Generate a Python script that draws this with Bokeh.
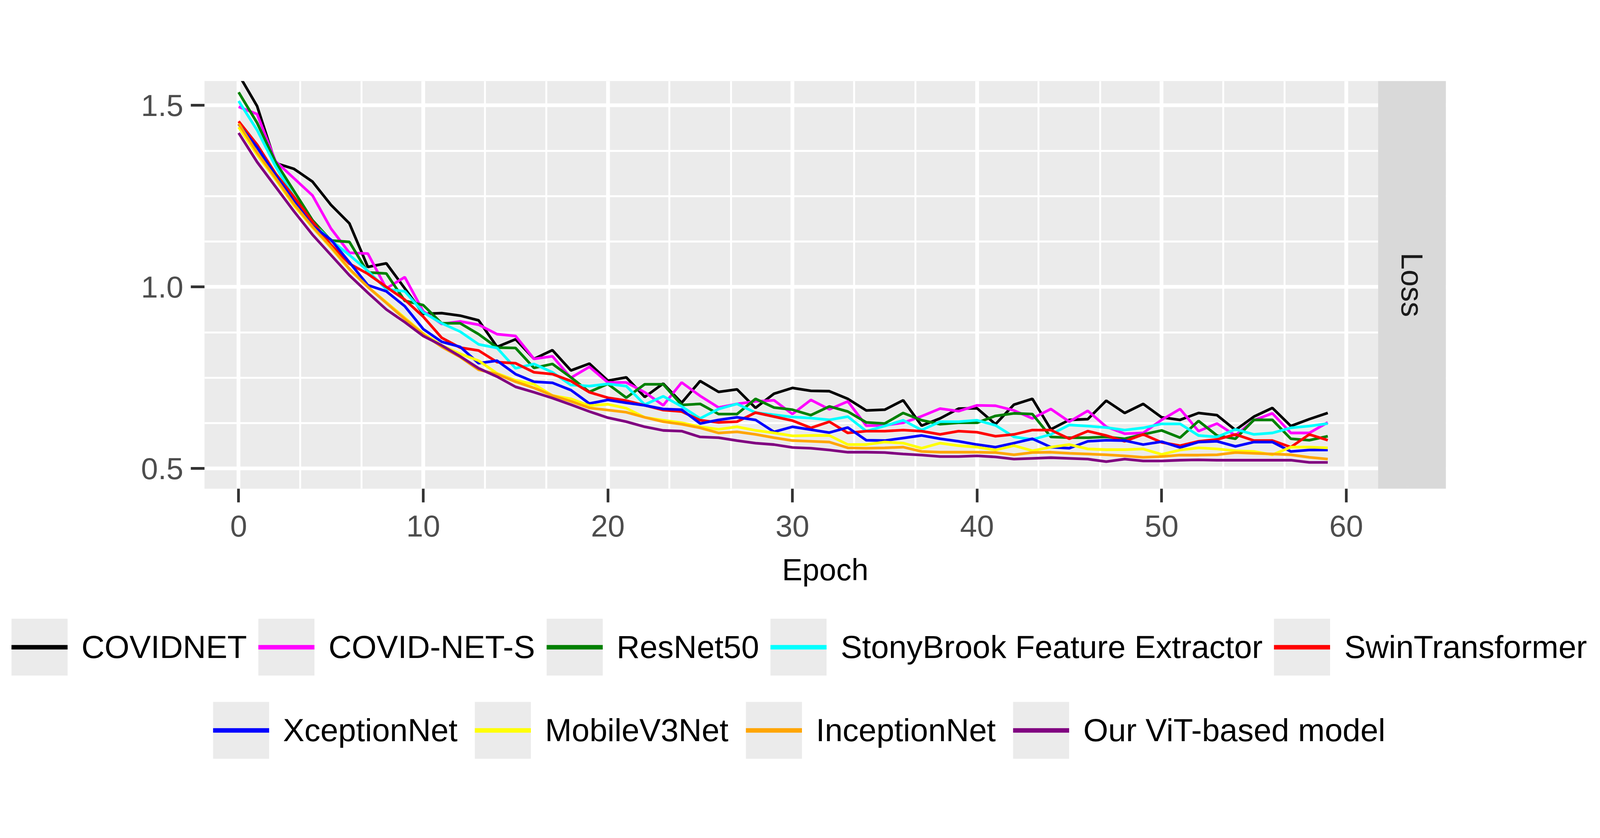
import math
from bokeh.plotting import figure
from bokeh.models import (Range1d, FixedTicker, PrintfTickFormatter, BoxAnnotation,
                          Label, Legend, LegendItem)
from bokeh.embed import file_html
from bokeh.resources import INLINE

FONT = "Liberation Sans"

# ---------------- data ----------------
epochs = list(range(60))

covidnet = [1.585, 1.498, 1.341, 1.325, 1.290, 1.226, 1.175, 1.055, 1.065, 0.996,
            0.926, 0.928, 0.921, 0.908, 0.835, 0.856, 0.802, 0.826, 0.770, 0.789,
            0.742, 0.751, 0.697, 0.734, 0.681, 0.741, 0.711, 0.718, 0.667, 0.706,
            0.722, 0.714, 0.713, 0.692, 0.660, 0.662, 0.688, 0.618, 0.638, 0.665,
            0.666, 0.622, 0.676, 0.692, 0.608, 0.634, 0.636, 0.687, 0.653, 0.678,
            0.641, 0.634, 0.653, 0.647, 0.606, 0.643, 0.667, 0.617, 0.636, 0.653]

covid_net_s = [1.496, 1.476, 1.346, 1.299, 1.252, 1.161, 1.094, 1.092, 0.996, 1.027,
               0.933, 0.898, 0.905, 0.896, 0.870, 0.865, 0.802, 0.809, 0.750, 0.780,
               0.737, 0.737, 0.710, 0.674, 0.737, 0.700, 0.668, 0.678, 0.685, 0.688,
               0.650, 0.689, 0.663, 0.685, 0.618, 0.619, 0.626, 0.644, 0.665, 0.658,
               0.674, 0.673, 0.660, 0.638, 0.664, 0.629, 0.659, 0.615, 0.596, 0.598,
               0.634, 0.664, 0.603, 0.624, 0.591, 0.633, 0.652, 0.598, 0.598, 0.627]

resnet50 = [1.536, 1.452, 1.344, 1.264, 1.184, 1.128, 1.124, 1.040, 1.037, 0.962,
            0.950, 0.900, 0.900, 0.870, 0.833, 0.832, 0.777, 0.788, 0.751, 0.711,
            0.733, 0.695, 0.732, 0.732, 0.675, 0.678, 0.650, 0.650, 0.692, 0.668,
            0.662, 0.647, 0.671, 0.657, 0.627, 0.624, 0.653, 0.633, 0.622, 0.626,
            0.626, 0.645, 0.652, 0.650, 0.587, 0.585, 0.585, 0.587, 0.582, 0.594,
            0.605, 0.585, 0.631, 0.591, 0.582, 0.634, 0.634, 0.582, 0.578, 0.589]

stonybrook = [1.512, 1.432, 1.332, 1.248, 1.176, 1.128, 1.088, 1.044, 0.994, 0.988,
              0.930, 0.900, 0.877, 0.842, 0.832, 0.776, 0.788, 0.765, 0.730, 0.727,
              0.733, 0.727, 0.676, 0.699, 0.671, 0.638, 0.664, 0.678, 0.654, 0.648,
              0.642, 0.639, 0.634, 0.643, 0.603, 0.617, 0.633, 0.606, 0.629, 0.629,
              0.633, 0.619, 0.587, 0.580, 0.594, 0.620, 0.617, 0.613, 0.606, 0.612,
              0.623, 0.623, 0.591, 0.587, 0.608, 0.594, 0.598, 0.612, 0.617, 0.624]

swin = [1.456, 1.392, 1.312, 1.248, 1.180, 1.116, 1.064, 1.036, 1.000, 0.965,
        0.918, 0.860, 0.833, 0.825, 0.793, 0.790, 0.765, 0.760, 0.741, 0.710,
        0.695, 0.687, 0.674, 0.661, 0.657, 0.633, 0.627, 0.629, 0.654, 0.643,
        0.632, 0.612, 0.629, 0.598, 0.603, 0.603, 0.606, 0.603, 0.594, 0.603,
        0.600, 0.589, 0.594, 0.606, 0.606, 0.582, 0.603, 0.591, 0.575, 0.594,
        0.572, 0.563, 0.575, 0.580, 0.594, 0.577, 0.577, 0.559, 0.594, 0.578]

xception = [1.448, 1.384, 1.308, 1.236, 1.168, 1.130, 1.068, 1.005, 0.988, 0.947,
            0.884, 0.849, 0.835, 0.790, 0.797, 0.760, 0.739, 0.736, 0.716, 0.679,
            0.689, 0.681, 0.674, 0.664, 0.662, 0.624, 0.634, 0.641, 0.634, 0.601,
            0.615, 0.607, 0.599, 0.613, 0.578, 0.577, 0.584, 0.591, 0.582, 0.575,
            0.566, 0.559, 0.570, 0.582, 0.559, 0.556, 0.575, 0.578, 0.577, 0.566,
            0.574, 0.558, 0.573, 0.575, 0.561, 0.573, 0.573, 0.547, 0.551, 0.551]

mobile = [1.440, 1.364, 1.296, 1.224, 1.164, 1.108, 1.048, 1.000, 0.958, 0.915,
          0.872, 0.839, 0.816, 0.797, 0.762, 0.743, 0.732, 0.701, 0.692, 0.673,
          0.677, 0.666, 0.641, 0.633, 0.626, 0.615, 0.608, 0.615, 0.605, 0.598,
          0.590, 0.591, 0.591, 0.566, 0.566, 0.573, 0.570, 0.556, 0.570, 0.563,
          0.559, 0.551, 0.563, 0.549, 0.559, 0.566, 0.554, 0.552, 0.552, 0.554,
          0.539, 0.551, 0.557, 0.554, 0.549, 0.547, 0.538, 0.559, 0.559, 0.557]

inception = [1.450, 1.370, 1.300, 1.228, 1.166, 1.110, 1.050, 1.000, 0.956, 0.912,
             0.870, 0.835, 0.807, 0.772, 0.760, 0.739, 0.722, 0.701, 0.685, 0.667,
             0.661, 0.655, 0.641, 0.629, 0.622, 0.612, 0.598, 0.601, 0.594, 0.585,
             0.577, 0.575, 0.573, 0.557, 0.556, 0.557, 0.559, 0.547, 0.545, 0.545,
             0.545, 0.544, 0.538, 0.544, 0.545, 0.542, 0.540, 0.538, 0.535, 0.531,
             0.533, 0.537, 0.537, 0.538, 0.544, 0.542, 0.540, 0.538, 0.531, 0.526]

vit = [1.424, 1.344, 1.276, 1.208, 1.144, 1.088, 1.032, 0.984, 0.938, 0.903,
       0.865, 0.839, 0.809, 0.776, 0.753, 0.725, 0.710, 0.694, 0.676, 0.657,
       0.640, 0.629, 0.615, 0.605, 0.603, 0.587, 0.585, 0.577, 0.570, 0.566,
       0.558, 0.556, 0.551, 0.545, 0.545, 0.544, 0.540, 0.537, 0.533, 0.533,
       0.535, 0.532, 0.526, 0.528, 0.530, 0.528, 0.526, 0.519, 0.526, 0.521,
       0.521, 0.523, 0.524, 0.523, 0.523, 0.523, 0.523, 0.523, 0.517, 0.517]

series_names = ["COVIDNET", "COVID-NET-S", "ResNet50", "StonyBrook Feature Extractor",
                "SwinTransformer", "XceptionNet", "MobileV3Net", "InceptionNet",
                "Our ViT-based model"]
series_values = [covidnet, covid_net_s, resnet50, stonybrook, swin, xception,
                 mobile, inception, vit]
series_colors = ["#000000", "#FF00FF", "#008000", "#00FFFF", "#FF0000",
                 "#0000FF", "#FFFF00", "#FFA500", "#800080"]

x_ticks = [0, 10, 20, 30, 40, 50, 60]
x_minor = [t + d for t in range(0, 70, 10) for d in (10 / 3, 20 / 3)]
y_ticks = [0.5, 1.0, 1.5]
y_minor = [0.625, 0.75, 0.875, 1.125, 1.25, 1.375]
facet_label = "Loss"

# ---------------- sizes (CSS px; the page is shown slightly enlarged) ----------------
S = 1 / 1.0275


def px(v):
    return v * S


W = 4091
H1 = 1510
H2 = 507
FL = round(px(546) - 8)      # frame left
FR = round(px(3811) - 8)     # frame right (end of strip)
FT = round(px(221) - 8)      # frame top
FB = round(px(1294) - 8)     # frame bottom

# ---------------- main panel ----------------
p = figure(width=W, height=H1, output_backend="svg", toolbar_location=None,
           x_range=Range1d(-1.85, 65.4), y_range=Range1d(0.4445, 1.567),
           min_border_left=FL, min_border_right=W - FR,
           min_border_top=FT, min_border_bottom=H1 - FB)
p.background_fill_color = "#EBEBEB"
p.border_fill_color = "white"
p.outline_line_color = None

xt = FixedTicker(ticks=x_ticks, minor_ticks=x_minor)
yt = FixedTicker(ticks=y_ticks, minor_ticks=y_minor)
p.xaxis.ticker = xt
p.yaxis.ticker = yt
p.xgrid.ticker = xt
p.ygrid.ticker = yt
p.yaxis.formatter = PrintfTickFormatter(format="%.1f")

for g in (p.xgrid[0], p.ygrid[0]):
    g.grid_line_color = "white"
    g.grid_line_width = px(10)
    g.minor_grid_line_color = "white"
    g.minor_grid_line_width = px(5)

for ax in (p.xaxis[0], p.yaxis[0]):
    ax.axis_line_color = None
    ax.major_tick_line_color = "#333333"
    ax.major_tick_line_width = px(7)
    ax.major_tick_out = round(px(36))
    ax.major_tick_in = 0
    ax.minor_tick_line_color = None
    ax.major_label_text_font = FONT
    ax.major_label_text_font_size = "78px"
    ax.major_label_text_color = "#4D4D4D"

p.yaxis.major_label_standoff = 19
p.xaxis.major_label_standoff = 33
p.xaxis.axis_label = "Epoch"
p.xaxis.axis_label_text_font = FONT
p.xaxis.axis_label_text_font_size = "78px"
p.xaxis.axis_label_text_font_style = "normal"
p.xaxis.axis_label_text_color = "black"
p.xaxis.axis_label_standoff = 38

for vals, col in zip(series_values, series_colors):
    p.line(x=epochs, y=vals, line_color=col, line_width=px(7))

strip = BoxAnnotation(left=61.73, fill_color="#D9D9D9", fill_alpha=1.0, line_color=None)
p.add_layout(strip)
p.add_layout(Label(x=63.565, y=1.0058, text=facet_label, angle=-math.pi / 2,
                   text_align="center", text_baseline="middle", text_font=FONT,
                   text_font_size="78px", text_color="#1A1A1A"))

# ---------------- legend (separate full-width canvas) ----------------
p2 = figure(width=W, height=H2, output_backend="svg", toolbar_location=None,
            x_range=Range1d(-100, -99), y_range=Range1d(-100, -99), min_border=0,
            x_axis_type=None, y_axis_type=None)
p2.outline_line_color = None
p2.background_fill_color = "white"
p2.border_fill_color = "white"

GH = round(px(150))
key_bg = p2.line(x=epochs, y=vit, line_color="#EBEBEB", line_width=GH, visible=False)
items = []
for name, vals, col in zip(series_names, series_values, series_colors):
    r = p2.line(x=epochs, y=vals, line_color=col, line_width=px(12), visible=False)
    items.append(LegendItem(label=name, renderers=[key_bg, r]))

kw = dict(orientation="horizontal", padding=0,
          glyph_width=round(px(148)), glyph_height=GH, label_standoff=round(px(37)),
          label_height=GH, label_text_font=FONT, label_text_font_size="82px",
          label_text_color="black", border_line_color=None,
          background_fill_alpha=0.0, margin=74, click_policy="none")
p2.add_layout(Legend(items=items[:5], location="top_center", spacing=29, **kw))
p2.add_layout(Legend(items=items[5:], location="bottom_center", spacing=44, **kw))

open("out.html", "w").write(file_html([p, p2], INLINE, "plot"))
